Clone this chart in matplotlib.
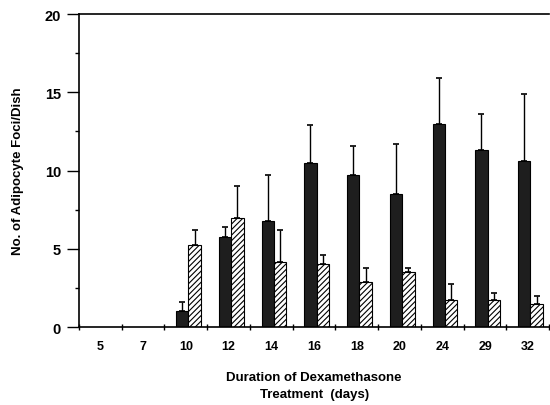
import numpy as np
import matplotlib.pyplot as plt
from matplotlib.ticker import MultipleLocator

plt.rcParams['font.family'] = ['Liberation Sans', 'DejaVu Sans']
plt.rcParams['font.weight'] = 'bold'
plt.rcParams['hatch.linewidth'] = 0.8

days = ['5', '7', '10', '12', '14', '16', '18', '20', '24', '29', '32']
# solid bars
solid = [0, 0, 1.05, 5.75, 6.8, 10.5, 9.7, 8.5, 13.0, 11.3, 10.6]
solid_top = [0, 0, 1.6, 6.4, 9.7, 12.9, 11.55, 11.7, 15.9, 13.6, 14.9]
# hatched bars
hatched = [0, 0, 5.25, 6.95, 4.15, 4.0, 2.9, 3.5, 1.7, 1.7, 1.5]
hatched_top = [0, 0, 6.2, 9.0, 6.2, 4.6, 3.75, 3.8, 2.75, 2.15, 2.0]

x = np.arange(len(days))
w = 0.29

fig = plt.figure(figsize=(5.5, 4.06), dpi=100)
ax = fig.add_axes([0.1436, 0.192, 0.855, 0.771])

has = np.array(solid) > 0
xs = x[has] - w / 2 + 0.06
xh = x[has] + w / 2 + 0.06
ax.bar(xs, np.array(solid)[has], w, color='#1e1e1e', edgecolor='black', linewidth=0.8)
ax.bar(xh, np.array(hatched)[has], w, color='white', edgecolor='black',
       hatch='//////', linewidth=0.8)

err_s = np.array(solid_top)[has] - np.array(solid)[has]
err_h = np.array(hatched_top)[has] - np.array(hatched)[has]
ax.errorbar(xs, np.array(solid)[has], yerr=[np.zeros_like(err_s), err_s],
            fmt='none', ecolor='black', elinewidth=1.0, capsize=2.5, capthick=1.2)
ax.errorbar(xh, np.array(hatched)[has], yerr=[np.zeros_like(err_h), err_h],
            fmt='none', ecolor='black', elinewidth=1.0, capsize=2.5, capthick=1.2)

ax.set_xlim(-0.5, 10.5)
ax.set_ylim(0, 20)
ax.spines['right'].set_visible(False)
for s in ['left', 'bottom', 'top']:
    ax.spines[s].set_linewidth(1.2)

ax.set_xticks(x)
ax.set_xticklabels(days, fontsize=9, fontweight='bold')
ax.tick_params(axis='x', length=0, pad=9)
ax.set_xticks(np.arange(-0.5, 11, 1), minor=True)
ax.tick_params(axis='x', which='minor', length=4, direction='inout', width=1)

ax.set_yticks([0, 5, 10, 15, 20])
ax.set_yticklabels(['0', '5', '10', '15', '20'], fontsize=10.5, fontweight='bold')
ax.yaxis.set_minor_locator(MultipleLocator(2.5))
ax.tick_params(axis='y', which='major', length=9, width=1, pad=4)
ax.tick_params(axis='y', which='minor', length=3, width=1)

ax.set_ylabel('No. of Adipocyte Foci/Dish', fontsize=9.5, fontweight='bold', labelpad=15)
ax.set_xlabel('Duration of Dexamethasone\nTreatment  (days)', fontsize=9.5,
              fontweight='bold', labelpad=14, linespacing=1.6)

fig.savefig('out.png', dpi=100)
